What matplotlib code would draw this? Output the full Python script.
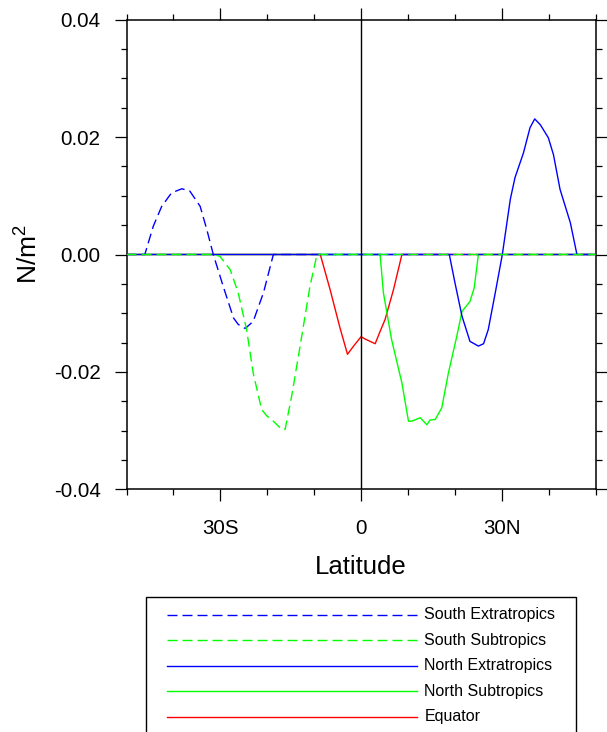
import numpy as np
import matplotlib.pyplot as plt
from matplotlib.lines import Line2D
from matplotlib.patches import Rectangle

plt.rcParams['font.family'] = ['Liberation Sans', 'DejaVu Sans']
plt.rcParams['mathtext.fontset'] = 'custom'
plt.rcParams['mathtext.rm'] = 'Liberation Sans'
plt.rcParams['axes.unicode_minus'] = False

#------------------data------------------

south_extra_lat = [-50, -46.1, -44.3, -42.5, -40.4, -38.2, -36.5, -34.3, -32.9, -31.5,
                   -29.4, -27.2, -26.2, -24.7, -23.0, -20.8, -18.7, 50]
south_extra_val = [0, 0, 0.0048, 0.0082, 0.0105, 0.0112, 0.0108, 0.0082, 0.0043, 0,
                   -0.0054, -0.0108, -0.0119, -0.0126, -0.0114, -0.0065, 0, 0]

south_sub_lat = [-50, -31.5, -30.1, -27.9, -26.2, -24.4, -23.0, -21.2, -20.1, -18.7,
                 -16.9, -16.2, -14.8, -13.0, -10.9, -9.4, 50]
south_sub_val = [0, 0, -0.0003, -0.0026, -0.0065, -0.0128, -0.0202, -0.0264, -0.0275, -0.0284,
                 -0.0298, -0.0298, -0.0241, -0.0156, -0.0054, 0, 0]

north_extra_lat = [-50, 18.8, 20.0, 21.5, 23.2, 25.0, 26.1, 27.1, 28.6, 30.1, 31.8, 32.8,
                   34.6, 36.0, 37.0, 38.2, 39.9, 41.0, 42.4, 44.6, 46.0, 50]
north_extra_val = [0, 0, -0.0048, -0.0105, -0.0148, -0.0156, -0.0152, -0.0128, -0.0065, 0,
                   0.0094, 0.0131, 0.0173, 0.0216, 0.0231, 0.0221, 0.0199, 0.0170, 0.0111,
                   0.0054, 0, 0]

north_sub_lat = [-50, 4.05, 4.75, 6.5, 8.7, 10.1, 10.8, 12.6, 14.0, 14.7, 15.8, 17.2,
                 18.6, 20.4, 21.5, 23.2, 24.1, 25.0, 50]
north_sub_val = [0, 0, -0.0065, -0.0145, -0.0219, -0.0284, -0.0284, -0.0278, -0.0290,
                 -0.0282, -0.0281, -0.0261, -0.0202, -0.0139, -0.0097, -0.0080, -0.0057, 0, 0]

equator_lat = [-50, -8.7, -6.6, -4.5, -2.9, -1.6, 0.0, 0.85, 3.0, 4.05, 5.1, 6.9, 8.7, 50]
equator_val = [0, 0, -0.0060, -0.0125, -0.0170, -0.0156, -0.0140, -0.0144, -0.0152,
               -0.0131, -0.0111, -0.0060, 0, 0]

labels = ["South Extratropics", "South Subtropics", "North Extratropics",
          "North Subtropics", "Equator"]

xtick_vals = [-30, 0, 30]
xtick_labels = ["30S", "0", "30N"]
ytick_vals = [-0.04, -0.02, 0.0, 0.02, 0.04]
ytick_labels = ["-0.04", "-0.02", "0.00", "0.02", "0.04"]

#-------------------------------------------------------

W, H = 607, 732
fig = plt.figure(figsize=(W / 100, H / 100), dpi=100)
ax = fig.add_axes([126.5 / W, 1 - 489.3 / H, (595.7 - 126.5) / W, (489.3 - 19.7) / H])

dash = (7.2, 3.6)
series = [
    (south_extra_lat, south_extra_val, dict(color='blue', dashes=dash), 4),
    (south_sub_lat, south_sub_val, dict(color='#00ff00', dashes=dash), 5),
    (north_extra_lat, north_extra_val, dict(color='blue'), 3),
    (north_sub_lat, north_sub_val, dict(color='#00ff00'), 2),
    (equator_lat, equator_val, dict(color='red'), 1),
]

for lat, val, style, z in series:
    ax.plot(lat, val, lw=1.0, zorder=z, **style)

ax.axvline(0, color='black', lw=1.0, zorder=6)

ax.set_xlim(-50, 50)
ax.set_ylim(-0.04, 0.04)
ax.set_xticks(xtick_vals)
ax.set_xticklabels(xtick_labels)
ax.set_xticks(np.arange(-50, 51, 10), minor=True)
ax.set_yticks(ytick_vals)
ax.set_yticklabels(ytick_labels)
ax.set_yticks(np.arange(-0.04, 0.0401, 0.005), minor=True)

ax.tick_params(which='both', direction='out', top=True, right=True, width=0.9,
               labelsize=14.8)
ax.tick_params(which='major', length=8.6)
ax.tick_params(axis='y', which='major', pad=10)
ax.tick_params(axis='x', which='major', pad=13)
ax.tick_params(which='minor', length=4.3)
for s in ax.spines.values():
    s.set_linewidth(1.1)

ax.set_xlabel("Latitude", fontsize=18.5, labelpad=12)
ax.set_ylabel("N/m$^2$", fontsize=19, labelpad=9)

# legend box, bottom edge runs off the page as in the original
fig.add_artist(Rectangle((145.7 / W, -0.05), (575.7 - 145.7) / W, 1 - 596.7 / H + 0.05,
                         transform=fig.transFigure, fill=False, lw=1.0, ec='black'))
for i, (lab, (lat, val, style, z)) in enumerate(zip(labels, series)):
    yy = 1 - (615 + 25.4 * i) / H
    fig.add_artist(Line2D([166.7 / W, 416.7 / W], [yy, yy], lw=1.0,
                          transform=fig.transFigure, **style))
    fig.text(424.3 / W, yy, lab, fontsize=11.5, va='center', ha='left')

plt.savefig("out.png", dpi=100)
